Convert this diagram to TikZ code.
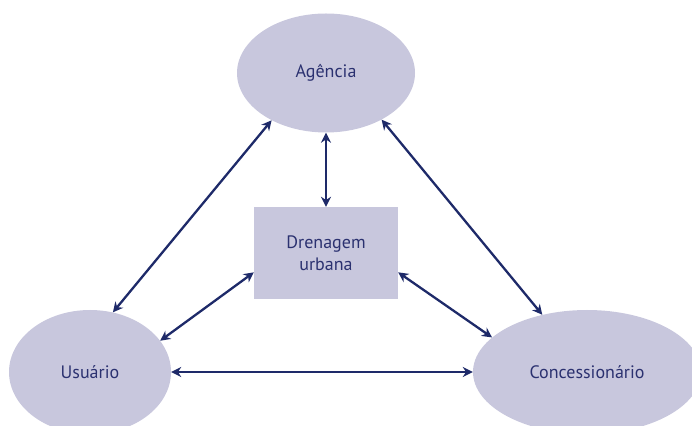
\documentclass[tikz,border=0pt]{standalone}
\usepackage{fontspec}
\setmainfont{PT Sans}
\usetikzlibrary{arrows.meta,shapes.geometric}
\definecolor{boxfill}{HTML}{C8C7DD}
\definecolor{navy}{HTML}{1E2A69}
\definecolor{txt}{HTML}{2B3170}
\tikzset{
  blob/.style={ellipse,fill=boxfill,draw=none,inner sep=0pt,text=txt,font=\fontsize{18}{21}\selectfont},
  core/.style={rectangle,fill=boxfill,draw=none,inner sep=0pt,text=txt,align=center,font=\fontsize{18}{22}\selectfont},
  link/.style={draw=navy,line width=2.3pt,{Stealth[length=10pt,width=10pt]}-{Stealth[length=10pt,width=10pt]}}
}
\begin{document}
\begin{tikzpicture}[x=1pt,y=1pt]
\useasboundingbox (0,0) rectangle (692,425);
\node[blob,minimum width=178pt,minimum height=119pt] (ag) at (326,352) {Agência};
\node[blob,minimum width=162pt,minimum height=124pt] (us) at (90,53) {Usuário};
\node[blob,minimum width=228pt,minimum height=124pt] (co) at (587,53) {Concessionário};
\node[core,minimum width=144pt,minimum height=92pt] (dr) at (326,172) {Drenagem\\urbana};
\draw[link] (ag.221) -- (us.69);
\draw[link] (ag.south) -- (dr.north);
\draw[link] (ag.320) -- (co.128);
\draw[link] (dr.195) -- (us.24);
\draw[link] (dr.345) -- (co.160);
\draw[link] (us.east) -- (co.west);
\end{tikzpicture}
\end{document}
